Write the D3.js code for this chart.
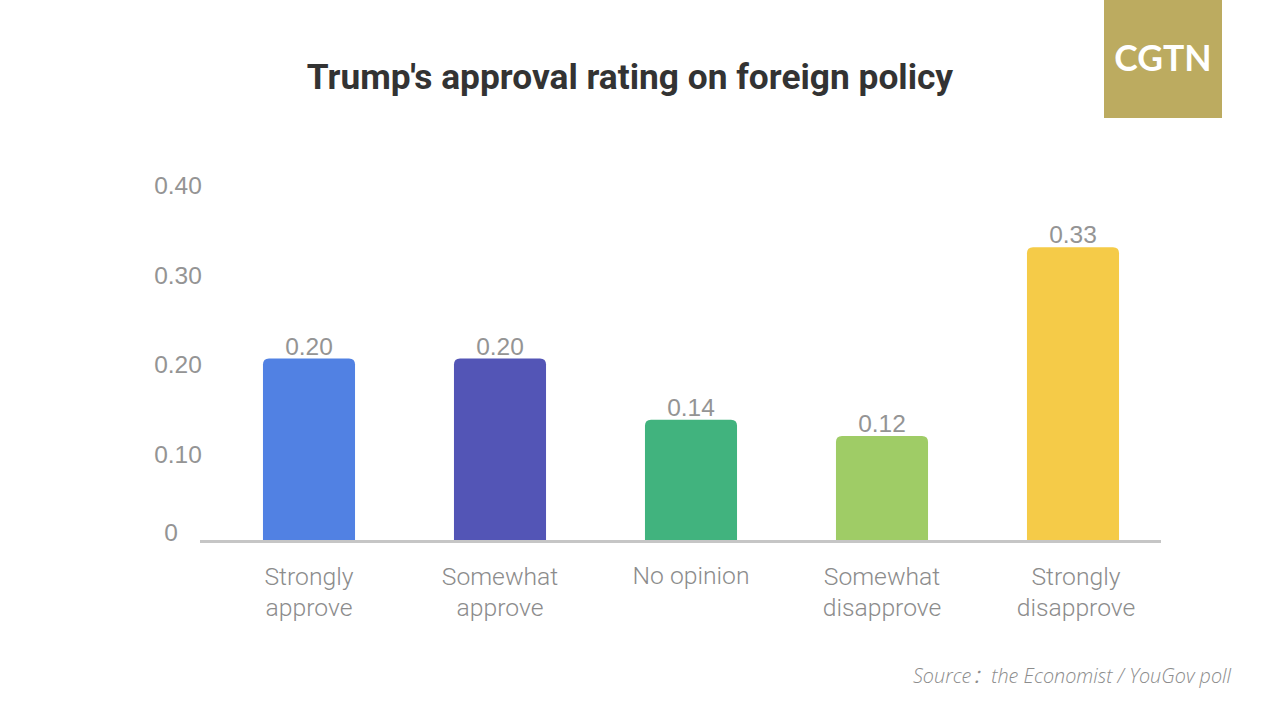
<!DOCTYPE html>
<html>
<head>
<meta charset="utf-8">
<script src="https://cdn.jsdelivr.net/npm/d3@7"></script>
<style>
    html, body { margin: 0; padding: 0; background: #fff; }
    svg { display: block; }
    .domain { display: none; }
</style>
</head>
<body>
<div id="chart"></div>
<script>
const categories = ["Strongly approve", "Somewhat approve", "No opinion", "Somewhat disapprove", "Strongly disapprove"];
const categoryLines = [["Strongly", "approve"], ["Somewhat", "approve"], ["No opinion"], ["Somewhat", "disapprove"], ["Strongly", "disapprove"]];
// bar heights as drawn in the picture, the printed labels are rounded differently
const barValues = [0.2, 0.2, 0.133, 0.115, 0.322];
const valueLabels = ["0.20", "0.20", "0.14", "0.12", "0.33"];
const barColors = ["#5181e3", "#5355b6", "#41b37e", "#9fcc66", "#f5cb48"];
const yTicks = [0, 0.1, 0.2, 0.3, 0.4];
const yTickLabels = ["0", "0.10", "0.20", "0.30", "0.40"];

const width = 1280, height = 720;
const baseY = 541;
const sansFont = "'Liberation Sans', Arial, sans-serif";

const svg = d3.select("#chart").append("svg")
    .attr("width", width)
    .attr("height", height);

const xScale = d3.scaleBand()
    .domain(categories)
    .range([213.5, 1168.5])
    .paddingInner(0.518)
    .paddingOuter(0.259);

// bars
const yScale = d3.scaleLinear().domain([0, 0.4]).range([baseY, baseY - 365]);

// the tick labels in the picture sit on their own spacing, not on the bars' scale
const yLabelScale = d3.scaleLinear().domain([0, 0.4]).range([543.5, 185]);

// Title
svg.append("text")
    .attr("x", 630)
    .attr("y", 89)
    .attr("text-anchor", "middle")
    .attr("font-family", "Roboto, sans-serif")
    .attr("font-weight", 700)
    .attr("font-size", 35.3)
    .attr("fill", "#333")
    .text("Trump's approval rating on foreign policy");

// Logo
svg.append("rect")
    .attr("x", 1104)
    .attr("y", 0)
    .attr("width", 118)
    .attr("height", 118)
    .attr("fill", "#bcab60");

svg.append("text")
    .attr("x", 1163)
    .attr("y", 71)
    .attr("text-anchor", "middle")
    .attr("font-family", "Lato, sans-serif")
    .attr("font-weight", 700)
    .attr("font-size", 35.5)
    .attr("fill", "#fff")
    .text("CGTN");

// Y axis labels
const yAxis = d3.axisLeft(yLabelScale)
    .tickValues(yTicks)
    .tickSize(0)
    .tickFormat((d, i) => yTickLabels[i]);

const yAxisGroup = svg.append("g")
    .attr("transform", "translate(178,0)")
    .call(yAxis);

yAxisGroup.selectAll("text")
    .attr("x", 0)
    .attr("dy", "0.35em")
    .attr("text-anchor", "middle")
    .attr("font-family", sansFont)
    .attr("font-size", 24.5)
    .attr("fill", "#949494");

// zero label is set higher than the scale would put it
yAxisGroup.selectAll(".tick").filter(d => d === 0)
    .select("text")
    .attr("y", -12)
    .attr("x", -7);

// Bars, rounded at the top and barely at the bottom
const r = 6;
svg.selectAll("path.bar")
    .data(barValues)
    .enter()
    .append("path")
    .attr("class", "bar")
    .attr("fill", (d, i) => barColors[i])
    .attr("d", (d, i) => {
        const x0 = xScale(categories[i]);
        const x1 = x0 + xScale.bandwidth();
        const y0 = yScale(d);
        return `M${x0},${baseY}V${y0 + r}Q${x0},${y0} ${x0 + r},${y0}H${x1 - r}Q${x1},${y0} ${x1},${y0 + r}V${baseY}Z`;
    });

// Baseline
svg.append("line")
    .attr("x1", 200)
    .attr("x2", 1161)
    .attr("y1", baseY + 0.5)
    .attr("y2", baseY + 0.5)
    .attr("stroke", "#c6c6c6")
    .attr("stroke-width", 3);

// Value labels
svg.selectAll("text.value")
    .data(valueLabels)
    .enter()
    .append("text")
    .attr("class", "value")
    .attr("x", (d, i) => xScale(categories[i]) + xScale.bandwidth() / 2)
    .attr("y", (d, i) => yScale(barValues[i]) - 4)
    .attr("text-anchor", "middle")
    .attr("font-family", sansFont)
    .attr("font-size", 24.5)
    .attr("fill", "#949494")
    .text(d => d);

// Category labels
categoryLines.forEach((lines, i) => {
    const cx = xScale(categories[i]) + xScale.bandwidth() / 2;
    lines.forEach((line, j) => {
        svg.append("text")
            .attr("x", cx + (i === 4 ? 3 : 0))
            .attr("y", (lines.length === 1 ? 584 : 585) + j * 31)
            .attr("text-anchor", "middle")
            .attr("font-family", "Roboto, sans-serif")
            .attr("font-weight", 300)
            .attr("font-size", 24.7)
            .attr("fill", "#8c8c8c")
            .text(line);
    });
});

// Source
svg.append("text")
    .attr("x", 1231)
    .attr("y", 683)
    .attr("text-anchor", "end")
    .attr("font-family", "'Open Sans', 'Noto Sans CJK SC', sans-serif")
    .attr("font-style", "italic")
    .attr("font-weight", 300)
    .attr("font-size", 19.8)
    .attr("fill", "#8c8c8c")
    .text("Source：the Economist / YouGov poll");
</script>
</body>
</html>
